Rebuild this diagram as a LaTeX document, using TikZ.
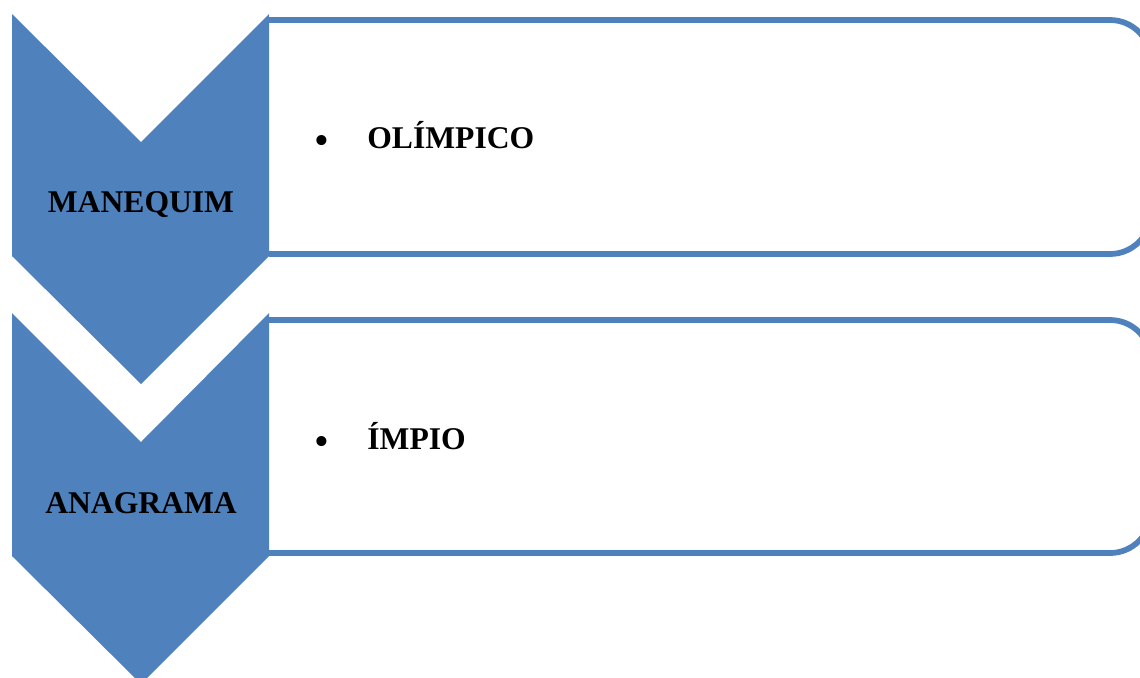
\documentclass[tikz,border=0pt]{standalone}
\usepackage{fontspec}
\setmainfont{Liberation Serif}
\usepackage{tikz}
\usetikzlibrary{positioning}

\definecolor{chevblue}{RGB}{79,129,189}

\tikzset{
  chevron/.style={fill=chevblue, draw=none},
  itembox/.style={draw=chevblue, fill=white, line width=0.115cm, rounded corners=0.82cm},
  steplabel/.style={font=\fontsize{18}{20}\selectfont\bfseries, anchor=base, inner sep=0pt},
  itemlabel/.style={font=\fontsize{18}{20}\selectfont\bfseries, anchor=base west, inner sep=0pt},
  bulletlabel/.style={font=\fontsize{24}{26}\selectfont, anchor=center, inner sep=0pt}
}

\begin{document}
\begin{tikzpicture}[x=0.02cm, y=-0.02cm]
			\useasboundingbox (0,0) rectangle (1140,677);
			\clip (0,0) rectangle (1140,677);

			% boxes on the right
			\filldraw[itembox] (269,20) -- (1151,20) -- (1151,254) -- (269,254);
			\filldraw[itembox] (269,320) -- (1151,320) -- (1151,553) -- (269,553);

			% chevrons
			\fill[chevron] (12,14) -- (141,142) -- (269,14) -- (269,256) -- (141,384) -- (12,256) -- cycle;
			\fill[chevron] (12,313) -- (141,442) -- (269,313) -- (269,556) -- (141,684) -- (12,556) -- cycle;

			\node[steplabel] (manequim) at (141,212) {MANEQUIM};
			\node[steplabel] (anagrama) at (141,513) {ANAGRAMA};

			\node[bulletlabel] (bulletA) at (322,145) {\textbullet};
			\node[itemlabel] (olimpico) at (367,148) {OLÍMPICO};
			\node[bulletlabel] (bulletB) at (322,446) {\textbullet};
			\node[itemlabel] (impio) at (367,449) {ÍMPIO};
        \end{tikzpicture}
\end{document}
